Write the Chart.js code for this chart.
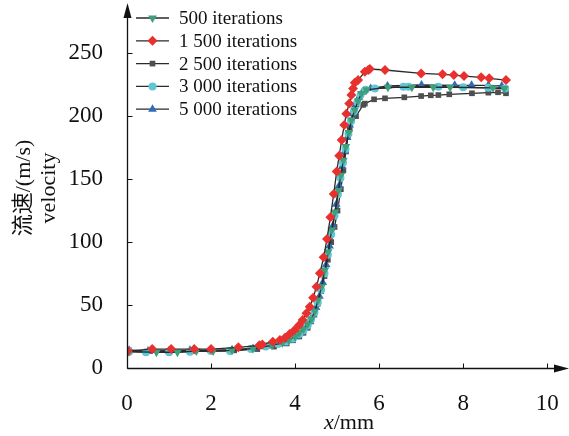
<!DOCTYPE html>
<html>
<head>
<meta charset="utf-8">
<script src="https://cdn.jsdelivr.net/npm/chart.js@4.4.1/dist/chart.umd.min.js"></script>
<style>
  html, body { margin: 0; padding: 0; background: #fff; }
  #wrap { width: 569px; height: 436px; }
</style>
</head>
<body>
<div id="wrap"><canvas id="velChart"></canvas></div>
<script>
// datos: x en mm, velocidad en m/s
const seriesNames = ['500 iterations', '1 500 iterations', '2 500 iterations', '3 000 iterations', '5 000 iterations'];

const x500 = [0.05, 0.7, 1.2, 1.65, 2.05, 2.5, 3.0, 3.45, 3.7, 3.85, 4.0, 4.1, 4.2, 4.3, 4.39, 4.47, 4.55, 4.63, 4.71, 4.79, 4.87, 4.95, 5.03, 5.09, 5.15, 5.21, 5.28, 5.34, 5.42, 5.5, 5.58, 5.7, 6.21, 6.78, 7.29, 7.69, 8.71, 8.98];
const v500 = [13, 12.5, 12.5, 13.5, 13.5, 14, 15.5, 18, 20, 22, 25, 28, 31, 35, 39, 45, 54, 64.6, 77.8, 92.4, 109.6, 124, 141, 153, 165, 176, 187, 197, 205, 212, 218, 221, 223, 223, 223, 223, 222.5, 222];

const x1500 = [0.02, 0.6, 1.05, 1.6, 2.0, 2.65, 3.15, 3.22, 3.47, 3.64, 3.76, 3.87, 3.99, 4.10, 4.18, 4.27, 4.35, 4.43, 4.51, 4.59, 4.68, 4.76, 4.84, 4.92, 4.99, 5.05, 5.11, 5.17, 5.22, 5.29, 5.34, 5.38, 5.42, 5.5, 5.66, 5.74, 5.78, 6.14, 7.0, 7.51, 7.78, 8.02, 8.43, 8.62, 9.02];
const v1500 = [13.5, 15, 15, 15, 15, 16.4, 18, 18.7, 20.9, 22.2, 24.1, 27, 30.2, 34.2, 38.1, 43.4, 48.7, 55.8, 64.6, 75.2, 87.9, 102.5, 119.7, 138.2, 156, 168.6, 181, 193, 202, 210, 216.8, 222, 226.6, 228.7, 235.3, 236.7, 237.5, 236.7, 234, 233.3, 232.7, 231.9, 230.9, 230.1, 228.7];

const x2500 = [0.05, 0.55, 1.0, 1.55, 2.0, 2.55, 3.1, 3.5, 3.8, 3.95, 4.1, 4.2, 4.3, 4.38, 4.46, 4.54, 4.62, 4.70, 4.78, 4.86, 4.94, 5.01, 5.09, 5.15, 5.21, 5.26, 5.3, 5.45, 5.62, 5.66, 5.88, 6.14, 6.6, 7.0, 7.23, 7.41, 7.67, 8.21, 8.6, 8.83, 9.02];
const v2500 = [14, 13.5, 13.5, 13.5, 14, 14, 15, 17, 19.5, 22, 25, 28, 32, 37, 43, 51, 61, 73, 86, 100, 112, 125, 142, 157, 172, 185, 190, 200, 209, 210, 213.4, 214.2, 215, 216, 216.6, 216.8, 217.4, 218.2, 218.7, 219, 218.2];

const x3000 = [0.05, 0.45, 1.0, 1.5, 2.0, 2.45, 2.95, 3.3, 3.6, 3.8, 3.95, 4.1, 4.2, 4.3, 4.38, 4.46, 4.54, 4.62, 4.7, 4.78, 4.86, 4.94, 5.02, 5.08, 5.14, 5.2, 5.27, 5.33, 5.4, 5.48, 5.56, 5.68, 5.9, 6.58, 6.7, 7.41, 8.0, 8.6, 9.0];
const v3000 = [13, 12.5, 12.5, 13, 13.5, 13.5, 15, 17, 19, 21, 23.5, 27, 30, 34, 38.5, 44, 52, 62, 75, 90, 106, 121, 138, 151, 163, 174, 186, 196, 204, 211, 217, 221, 222, 223.4, 223.4, 223.4, 223, 222.5, 222];

const x5000 = [0.05, 0.5, 1.0, 1.5, 2.0, 2.5, 3.0, 3.4, 3.7, 3.9, 4.05, 4.15, 4.25, 4.35, 4.43, 4.5, 4.58, 4.66, 4.74, 4.82, 4.9, 4.98, 5.05, 5.12, 5.18, 5.24, 5.3, 5.37, 5.44, 5.52, 5.6, 5.8, 6.2, 7.01, 7.8, 8.2, 8.6, 8.92];
const v5000 = [14, 13.5, 13.5, 14, 14, 14.5, 15.5, 17.5, 19.5, 22, 25, 28, 32, 37, 42, 48, 57, 68, 82, 97, 113, 130, 145, 160, 172, 183, 193, 202, 209, 215, 219, 222, 224, 224.8, 224.5, 224.5, 224.5, 224];

const xTicks = [0, 2, 4, 6, 8, 10];
const yTicks = [0, 50, 100, 150, 200, 250];

const serif = '"Liberation Serif", "Times New Roman", "Noto Sans CJK SC", serif';

document.addEventListener("DOMContentLoaded", function() {
    function pts(xs, ys) {
        return xs.map((x, i) => ({ x: x, y: ys[i] }));
    }

    function serie(label, xs, ys, color, style, radius, rotation, order) {
        return {
            label: label,
            data: pts(xs, ys),
            showLine: true,
            borderColor: '#2a2a2a',
            borderWidth: 1.3,
            backgroundColor: color,
            pointBackgroundColor: color,
            pointBorderColor: color,
            pointBorderWidth: 0,
            pointStyle: style,
            pointRadius: radius,
            pointRotation: rotation,
            tension: 0,
            order: order
        };
    }

    const datasets = [
        serie(seriesNames[0], x500, v500, '#3e9f78', 'triangle', 5, 180, 1),
        serie(seriesNames[1], x1500, v1500, '#e8312f', 'rectRot', 5, 0, 0),
        serie(seriesNames[2], x2500, v2500, '#4f4f4f', 'rect', 4, 0, 4),
        serie(seriesNames[3], x3000, v3000, '#5fc6d6', 'circle', 4, 0, 2),
        serie(seriesNames[4], x5000, v5000, '#2f6cb5', 'triangle', 5, 0, 3)
    ];

    // ejes con flechas, marcas hacia dentro, leyenda y titulos
    const decoPlugin = {
        id: 'deco',
        afterDraw(chart) {
            const ctx = chart.ctx;
            const xs = chart.scales.x, ys = chart.scales.y;
            const x0 = Math.round(xs.getPixelForValue(0)) + 0.5;
            const y0 = Math.round(ys.getPixelForValue(0)) + 0.5;
            ctx.save();
            ctx.strokeStyle = '#111';
            ctx.fillStyle = '#111';
            ctx.lineWidth = 1.3;
            // ejes
            ctx.beginPath();
            ctx.moveTo(x0, y0);
            ctx.lineTo(x0, 10);
            ctx.moveTo(x0, y0);
            ctx.lineTo(562, y0);
            ctx.stroke();
            // flechas
            ctx.beginPath();
            ctx.moveTo(x0, 3);
            ctx.lineTo(x0 - 4, 18);
            ctx.lineTo(x0 + 4, 18);
            ctx.closePath();
            ctx.fill();
            ctx.beginPath();
            ctx.moveTo(569, y0);
            ctx.lineTo(554, y0 - 4);
            ctx.lineTo(554, y0 + 4);
            ctx.closePath();
            ctx.fill();
            // marcas
            ctx.lineWidth = 1;
            ctx.beginPath();
            xTicks.forEach(v => {
                const p = Math.round(xs.getPixelForValue(v)) + 0.5;
                ctx.moveTo(p, y0);
                ctx.lineTo(p, y0 - 5);
            });
            yTicks.forEach(v => {
                const p = Math.round(ys.getPixelForValue(v)) + 0.5;
                ctx.moveTo(x0, p);
                ctx.lineTo(x0 + 5, p);
            });
            ctx.stroke();

            // leyenda
            ctx.font = '19px ' + serif;
            ctx.textBaseline = 'middle';
            ctx.textAlign = 'left';
            datasets.forEach((ds, i) => {
                const y = 18 + i * 22.8;
                ctx.strokeStyle = '#2a2a2a';
                ctx.lineWidth = 1.3;
                ctx.beginPath();
                ctx.moveTo(136, y);
                ctx.lineTo(169, y);
                ctx.stroke();
                ctx.fillStyle = ds.pointBackgroundColor;
                ctx.strokeStyle = ds.pointBackgroundColor;
                Chart.helpers.drawPoint(ctx, {
                    pointStyle: ds.pointStyle,
                    radius: ds.pointRadius,
                    rotation: ds.pointRotation,
                    borderWidth: 0
                }, 152.5, y);
                ctx.fillStyle = '#111';
                ctx.fillText(ds.label, 179, y + 1);
            });

            // titulo eje x: x en cursiva
            ctx.textBaseline = 'alphabetic';
            ctx.font = 'italic 22px ' + serif;
            const wx = ctx.measureText('x').width;
            ctx.font = '22px ' + serif;
            const wmm = ctx.measureText('/mm').width;
            const start = 349 - (wx + wmm) / 2;
            ctx.font = 'italic 22px ' + serif;
            ctx.fillText('x', start, 429);
            ctx.font = '22px ' + serif;
            ctx.fillText('/mm', start + wx, 429);

            // titulo eje y en dos lineas
            ctx.save();
            ctx.translate(0, 188);
            ctx.rotate(-Math.PI / 2);
            ctx.textAlign = 'center';
            ctx.textBaseline = 'middle';
            ctx.font = '22px ' + serif;
            ctx.fillText('流速/(m/s)', 0, 24);
            ctx.fillText('velocity', 0, 49);
            ctx.restore();
            ctx.restore();
        }
    };

    const ctx = document.getElementById('velChart').getContext('2d');
    new Chart(ctx, {
        type: 'scatter',
        data: { datasets: datasets },
        options: {
            responsive: true,
            maintainAspectRatio: false,
            animation: false,
            layout: { padding: { top: 18, right: 13, bottom: 0, left: 0 } },
            plugins: {
                legend: { display: false },
                tooltip: { enabled: false }
            },
            scales: {
                x: {
                    type: 'linear',
                    min: 0,
                    max: 10.21,
                    grid: { display: false },
                    border: { display: false },
                    afterFit: function(scale) {
                        scale.height = 68;
                        scale.paddingLeft = 0;
                        scale.paddingRight = 0;
                    },
                    afterBuildTicks: function(scale) {
                        scale.ticks = xTicks.map(v => ({ value: v }));
                    },
                    ticks: {
                        padding: 14,
                        color: '#111',
                        font: { family: serif, size: 23 }
                    }
                },
                y: {
                    min: 0,
                    max: 278,
                    grid: { display: false },
                    border: { display: false },
                    afterFit: function(scale) {
                        scale.width = 127;
                        scale.paddingTop = 0;
                        scale.paddingBottom = 0;
                    },
                    afterBuildTicks: function(scale) {
                        scale.ticks = yTicks.map(v => ({ value: v }));
                    },
                    ticks: {
                        padding: 16,
                        color: '#111',
                        font: { family: serif, size: 23 }
                    }
                }
            }
        },
        plugins: [decoPlugin]
    });
});
</script>
</body>
</html>
